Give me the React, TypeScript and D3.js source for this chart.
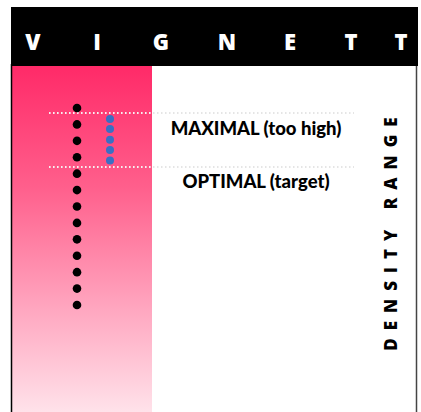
import React, { useRef, useEffect } from 'react';
import * as d3 from 'd3';

const titleLetters = ['V', 'I', 'G', 'N', 'E', 'T', 'T'];
const letterPositions = [33, 97, 161, 227, 290, 351, 401];
// density positions (in dot steps from the top)
const allDots = [0, 1, 2, 3, 4, 5, 6, 7, 8, 9, 10, 11, 12];
const vignetteDots = [0.67, 1.28, 1.93, 2.56, 3.2];
const thresholds = [0.3, 3.6];
const zoneLabels = ['MAXIMAL (too high)', 'OPTIMAL (target)'];
const axisLabel = 'DENSITY RANGE';

const W = 421;
const H = 412;

const App = () => {
  const svgRef = useRef<SVGSVGElement>(null);

  useEffect(() => {
    const svg = d3.select(svgRef.current);
    svg.selectAll('*').remove();

    const y = d3.scaleLinear().domain([0, 12]).range([108, 305]);

    const defs = svg.append('defs');
    const grad = defs.append('linearGradient')
      .attr('id', 'pinkGrad')
      .attr('x1', 0).attr('y1', 0).attr('x2', 0).attr('y2', 1);
    grad.append('stop').attr('offset', '0%').attr('stop-color', '#ff2a68');
    grad.append('stop').attr('offset', '35%').attr('stop-color', '#ff5f8c');
    grad.append('stop').attr('offset', '67%').attr('stop-color', '#ffa0bb');
    grad.append('stop').attr('offset', '100%').attr('stop-color', '#ffe2ea');

    // frame
    svg.append('rect').attr('x', 11).attr('y', 64).attr('width', 405).attr('height', H - 64)
      .attr('fill', '#fff');
    svg.append('rect').attr('x', 12).attr('y', 66).attr('width', 140).attr('height', H - 66)
      .attr('fill', 'url(#pinkGrad)');
    svg.append('line').attr('x1', 11.5).attr('x2', 11.5).attr('y1', 64).attr('y2', H)
      .attr('stroke', '#000').attr('stroke-width', 1.5);
    svg.append('line').attr('x1', 416.5).attr('x2', 416.5).attr('y1', 64).attr('y2', H)
      .attr('stroke', '#444').attr('stroke-width', 1.5);

    // header
    svg.append('rect').attr('x', 11).attr('y', 7).attr('width', 407).attr('height', 59)
      .attr('fill', '#000');
    svg.append('g')
      .selectAll('text')
      .data(titleLetters)
      .enter().append('text')
      .attr('x', (d, i) => letterPositions[i])
      .attr('y', 50)
      .attr('text-anchor', 'middle')
      .attr('fill', '#fff')
      .attr('font-family', 'Open Sans, sans-serif')
      .attr('font-weight', 800)
      .attr('font-size', 22)
      .text(d => d);

    // threshold lines
    svg.append('g')
      .selectAll('line')
      .data(thresholds)
      .enter().append('line')
      .attr('x1', 49).attr('x2', 354)
      .attr('y1', d => y(d)).attr('y2', d => y(d))
      .attr('stroke', '#ddd')
      .attr('stroke-width', 1.5)
      .attr('stroke-dasharray', '1.5,2.5');
    svg.append('g')
      .selectAll('line')
      .data(thresholds)
      .enter().append('line')
      .attr('x1', 49).attr('x2', 152)
      .attr('y1', d => y(d)).attr('y2', d => y(d))
      .attr('stroke', '#fff')
      .attr('stroke-width', 1.5)
      .attr('stroke-dasharray', '1.5,2.5');

    // dots
    svg.append('g')
      .selectAll('circle')
      .data(allDots)
      .enter().append('circle')
      .attr('cx', 77).attr('cy', d => y(d)).attr('r', 4.3)
      .attr('fill', '#000');
    svg.append('g')
      .selectAll('circle')
      .data(vignetteDots)
      .enter().append('circle')
      .attr('cx', 110).attr('cy', d => y(d)).attr('r', 4)
      .attr('fill', '#3a6fc4');

    // zone labels
    svg.append('g')
      .selectAll('text')
      .data(zoneLabels)
      .enter().append('text')
      .attr('x', 256)
      .attr('y', (d, i) => i === 0 ? 135 : 188)
      .attr('text-anchor', 'middle')
      .attr('fill', '#000')
      .attr('font-family', 'Lato, sans-serif')
      .attr('font-weight', 900)
      .attr('font-size', 18.5)
      .text(d => d);

    // vertical axis label
    svg.append('text')
      .attr('transform', 'translate(397,230) rotate(-90)')
      .attr('text-anchor', 'middle')
      .attr('fill', '#000')
      .attr('font-family', 'Open Sans, sans-serif')
      .attr('font-weight', 800)
      .attr('font-size', 17)
      .attr('letter-spacing', 8)
      .text(axisLabel);
  }, []);

  return <svg ref={svgRef} width={W} height={H} style={{ display: 'block', position: 'absolute', left: 0, top: 0 }} />;
};

export default App;
